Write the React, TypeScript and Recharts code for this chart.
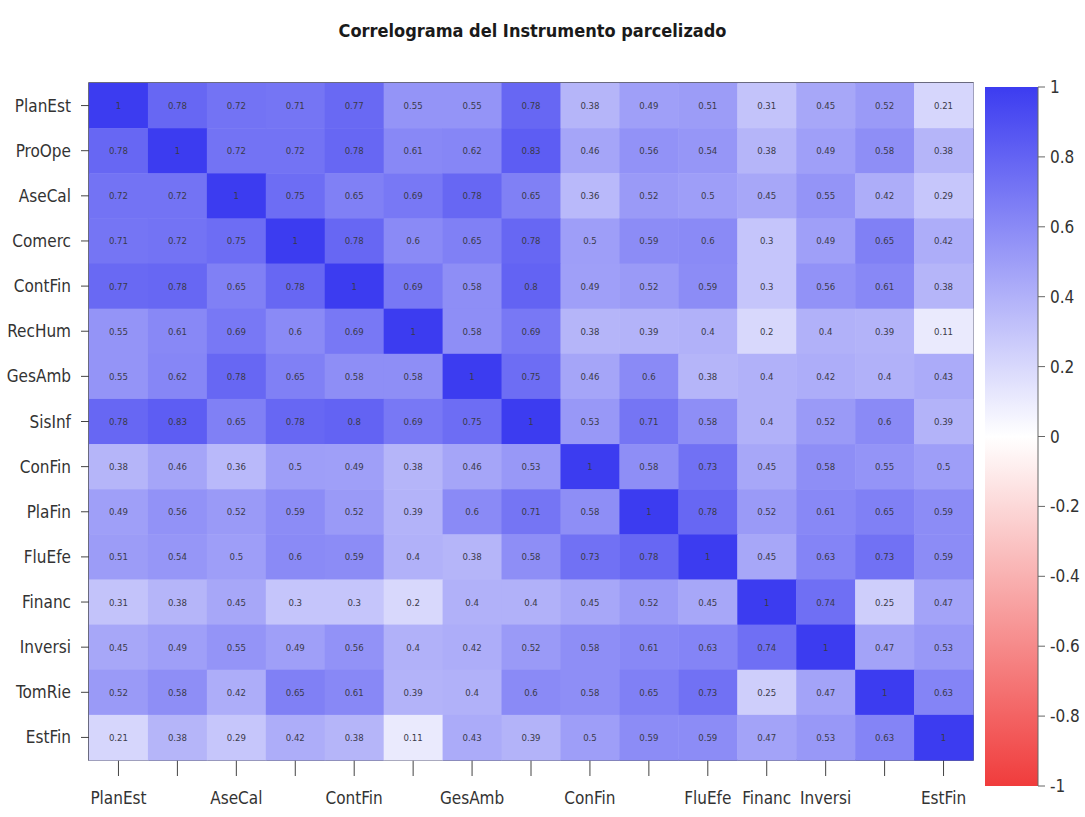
import React from 'react';
import {
  ScatterChart,
  Scatter,
  XAxis,
  YAxis,
  ReferenceArea,
  BarChart,
  Bar,
} from 'recharts';

const variables = [
  'PlanEst', 'ProOpe', 'AseCal', 'Comerc', 'ContFin', 'RecHum', 'GesAmb', 'SisInf',
  'ConFin', 'PlaFin', 'FluEfe', 'Financ', 'Inversi', 'TomRie', 'EstFin',
];

// x labels that R actually printed (the rest were dropped for overlap)
const shownXLabels = ['PlanEst', 'AseCal', 'ContFin', 'GesAmb', 'ConFin', 'FluEfe', 'Financ', 'Inversi', 'EstFin'];

const corrRows = [
  [1, 0.78, 0.72, 0.71, 0.77, 0.55, 0.55, 0.78, 0.38, 0.49, 0.51, 0.31, 0.45, 0.52, 0.21],
  [0.78, 1, 0.72, 0.72, 0.78, 0.61, 0.62, 0.83, 0.46, 0.56, 0.54, 0.38, 0.49, 0.58, 0.38],
  [0.72, 0.72, 1, 0.75, 0.65, 0.69, 0.78, 0.65, 0.36, 0.52, 0.5, 0.45, 0.55, 0.42, 0.29],
  [0.71, 0.72, 0.75, 1, 0.78, 0.6, 0.65, 0.78, 0.5, 0.59, 0.6, 0.3, 0.49, 0.65, 0.42],
  [0.77, 0.78, 0.65, 0.78, 1, 0.69, 0.58, 0.8, 0.49, 0.52, 0.59, 0.3, 0.56, 0.61, 0.38],
  [0.55, 0.61, 0.69, 0.6, 0.69, 1, 0.58, 0.69, 0.38, 0.39, 0.4, 0.2, 0.4, 0.39, 0.11],
  [0.55, 0.62, 0.78, 0.65, 0.58, 0.58, 1, 0.75, 0.46, 0.6, 0.38, 0.4, 0.42, 0.4, 0.43],
  [0.78, 0.83, 0.65, 0.78, 0.8, 0.69, 0.75, 1, 0.53, 0.71, 0.58, 0.4, 0.52, 0.6, 0.39],
  [0.38, 0.46, 0.36, 0.5, 0.49, 0.38, 0.46, 0.53, 1, 0.58, 0.73, 0.45, 0.58, 0.55, 0.5],
  [0.49, 0.56, 0.52, 0.59, 0.52, 0.39, 0.6, 0.71, 0.58, 1, 0.78, 0.52, 0.61, 0.65, 0.59],
  [0.51, 0.54, 0.5, 0.6, 0.59, 0.4, 0.38, 0.58, 0.73, 0.78, 1, 0.45, 0.63, 0.73, 0.59],
  [0.31, 0.38, 0.45, 0.3, 0.3, 0.2, 0.4, 0.4, 0.45, 0.52, 0.45, 1, 0.74, 0.25, 0.47],
  [0.45, 0.49, 0.55, 0.49, 0.56, 0.4, 0.42, 0.52, 0.58, 0.61, 0.63, 0.74, 1, 0.47, 0.53],
  [0.52, 0.58, 0.42, 0.65, 0.61, 0.39, 0.4, 0.6, 0.58, 0.65, 0.73, 0.25, 0.47, 1, 0.63],
  [0.21, 0.38, 0.29, 0.42, 0.38, 0.11, 0.43, 0.39, 0.5, 0.59, 0.59, 0.47, 0.53, 0.63, 1],
];

const scaleTicks = [1, 0.8, 0.6, 0.4, 0.2, 0, -0.2, -0.4, -0.6, -0.8, -1];

const FONT = "'Liberation Sans Narrow', 'DejaVu Sans Condensed', 'Liberation Sans', Arial, sans-serif";

// heatmap panel geometry
const HM_W = 990;
const HM_H = 817;
const MARGIN = { top: 83, right: 17, bottom: 0, left: 0 };
const Y_AXIS_W = 89;
const X_AXIS_H = 57;
const CELL_W = (HM_W - MARGIN.left - MARGIN.right - Y_AXIS_W) / variables.length;
const CELL_H = (HM_H - MARGIN.top - MARGIN.bottom - X_AXIS_H) / variables.length;

const cellColor = (v: number) => {
  const t = Math.min(1, Math.abs(v));
  const c = Math.round(255 - t * 195);
  const strong = Math.round(255 - t * 15);
  return v >= 0 ? `rgb(${c},${c},${strong})` : `rgb(${strong},${c},${c})`;
};

const cells = corrRows.flatMap((row, i) =>
  row.map((v, j) => ({ x: j, y: i, v }))
);

const CellShape = (props: any) => {
  const { cx, cy, payload } = props;
  if (cx == null || cy == null) return null;
  return (
    <g>
      <rect
        x={cx - CELL_W / 2}
        y={cy - CELL_H / 2}
        width={CELL_W + 0.5}
        height={CELL_H + 0.5}
        fill={cellColor(payload.v)}
      />
      <text
        x={cx}
        y={cy}
        textAnchor="middle"
        dominantBaseline="central"
        fontSize={9.5}
        fontFamily={FONT}
        fill="#3a3a4a"
      >
        {String(payload.v)}
      </text>
    </g>
  );
};

const idx = variables.map((_, i) => i);

export default function App() {
  return (
    <div style={{ position: 'absolute', left: 0, top: 0, width: 1085, height: 817, background: '#fff', overflow: 'hidden' }}>
      <div
        style={{
          position: 'absolute',
          left: 0,
          top: 20,
          width: 1065,
          textAlign: 'center',
          fontFamily: FONT,
          fontWeight: 'bold',
          fontSize: 18,
          color: '#1a1a1a',
        }}
      >
        Correlograma del Instrumento parcelizado
      </div>

      <div style={{ position: 'absolute', left: 0, top: 0 }}>
        <ScatterChart width={HM_W} height={HM_H} margin={MARGIN}>
          <XAxis
            type="number"
            dataKey="x"
            domain={[-0.5, 14.5]}
            ticks={idx}
            interval={0}
            height={X_AXIS_H}
            tickSize={16}
            tickMargin={16}
            tickFormatter={(i: number) => (shownXLabels.includes(variables[i]) ? variables[i] : '')}
            tick={{ fontSize: 17, fill: '#333', fontFamily: FONT }}
            stroke="#444"
            axisLine={false}
          />
          <YAxis
            type="number"
            dataKey="y"
            domain={[-0.5, 14.5]}
            reversed
            ticks={idx}
            interval={0}
            width={Y_AXIS_W}
            tickSize={8}
            tickMargin={10}
            tickFormatter={(i: number) => variables[i]}
            tick={{ fontSize: 17, fill: '#333', fontFamily: FONT }}
            stroke="#444"
            axisLine={false}
          />
          <Scatter data={cells} shape={<CellShape />} isAnimationActive={false} />
          <ReferenceArea x1={-0.5} x2={14.5} y1={-0.5} y2={14.5} fill="none" stroke="#3a3a55" strokeWidth={1.5} />
        </ScatterChart>
      </div>

      <div style={{ position: 'absolute', left: 970, top: 0 }}>
        <BarChart
          width={115}
          height={817}
          data={[{ name: 'scale', range: [-1, 1] }]}
          margin={{ top: 87, right: 0, bottom: 31, left: 15 }}
          barCategoryGap={0}
          barGap={0}
        >
          <defs>
            <linearGradient id="cbGrad" x1="0" y1="0" x2="0" y2="1">
              <stop offset="0%" stopColor={cellColor(1)} />
              <stop offset="50%" stopColor="#ffffff" />
              <stop offset="100%" stopColor={cellColor(-1)} />
            </linearGradient>
          </defs>
          <XAxis dataKey="name" hide />
          <YAxis
            type="number"
            orientation="right"
            domain={[-1, 1]}
            ticks={scaleTicks}
            interval={0}
            width={47}
            tickSize={7}
            tickMargin={5}
            tickFormatter={(v: number) => String(v)}
            tick={{ fontSize: 17, fill: '#333', fontFamily: FONT }}
            stroke="#666"
          />
          <Bar dataKey="range" fill="url(#cbGrad)" isAnimationActive={false} />
        </BarChart>
      </div>
    </div>
  );
}
